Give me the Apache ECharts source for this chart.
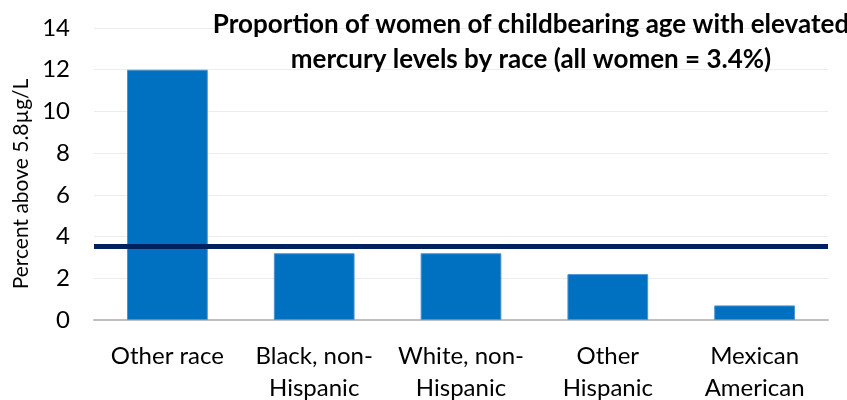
<!DOCTYPE html>
<html>
<head>
<meta charset="utf-8">
<script src="https://cdn.jsdelivr.net/npm/echarts@6/dist/echarts.min.js"></script>
<style>
  html, body { margin: 0; padding: 0; background: #fff; }
  #chart { width: 847px; height: 400px; }
</style>
</head>
<body>
<div id="chart"></div>
<script>
// data
const categories = [
  "Other race",
  "Black, non-\nHispanic",
  "White, non-\nHispanic",
  "Other\nHispanic",
  "Mexican\nAmerican",
];
const percentAbove = [12.0, 3.2, 3.2, 2.2, 0.7];
const allWomenLine = 3.55; // drawn line sits slightly above the 3.4 in the title

const font = "Lato";

const chart = echarts.init(document.getElementById("chart"));

const option = {
  animation: false,
  title: {
    text: "Proportion of women of childbearing age with elevated\nmercury levels by race (all women = 3.4%)",
    left: 526,
    top: 2,
    textAlign: "center",
    textStyle: {
      fontFamily: font,
      fontWeight: "bold",
      fontSize: 26,
      lineHeight: 35,
      color: "#000",
    },
  },
  grid: {
    left: 94,
    right: 19,
    top: 28,
    bottom: 80,
    outerBoundsMode: "none",
  },
  xAxis: {
    type: "category",
    data: categories,
    axisLine: { lineStyle: { color: "#bfbfbf", width: 2 } },
    axisTick: { show: false },
    axisLabel: {
      fontFamily: font,
      fontSize: 24,
      lineHeight: 32,
      color: "#000",
      margin: 20,
      interval: 0,
    },
  },
  yAxis: {
    type: "value",
    min: 0,
    max: 14,
    interval: 2,
    name: "Percent above 5.8µg/L",
    nameLocation: "middle",
    nameGap: 62,
    nameTextStyle: {
      fontFamily: font,
      fontSize: 21,
      color: "#000",
      padding: [0, 20, 0, 0],
    },
    axisLine: { show: false },
    axisTick: { show: false },
    axisLabel: {
      fontFamily: font,
      fontSize: 24,
      color: "#000",
      margin: 24,
    },
    splitLine: { lineStyle: { color: "#ececec", width: 1 } },
  },
  series: [
    {
      type: "bar",
      data: percentAbove,
      barWidth: "55%",
      itemStyle: {
        color: "#0070c0",
        borderColor: "#4d94d0",
        borderWidth: 1,
      },
      markLine: {
        symbol: "none",
        silent: true,
        label: { show: false },
        lineStyle: { color: "#002060", width: 5, type: "solid" },
        data: [{ yAxis: allWomenLine }],
      },
    },
  ],
};

chart.setOption(option);
</script>
</body>
</html>
